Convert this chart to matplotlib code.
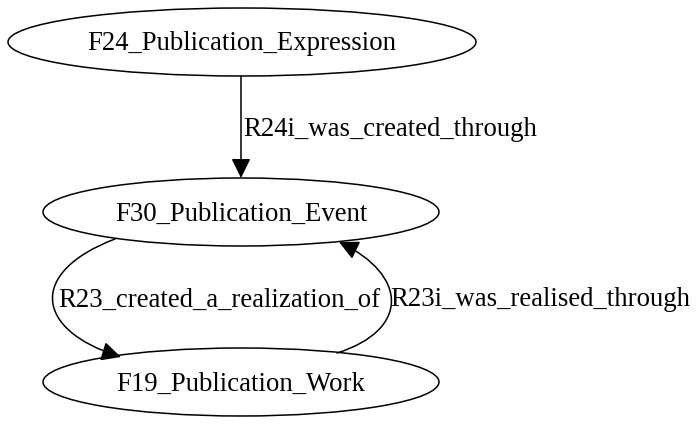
import matplotlib
matplotlib.use("Agg")
import matplotlib.pyplot as plt
from matplotlib.patches import Ellipse, FancyArrowPatch
from matplotlib.path import Path

# nodes of the graph
node_names = ["F24_Publication_Expression", "F30_Publication_Event", "F19_Publication_Work"]
node_x = [242, 241, 241]
node_y = [42, 212, 382]
node_rx = [234, 198, 198]
node_ry = [34, 34, 34]

# edge labels
edge_labels = ["R24i_was_created_through", "R23_created_a_realization_of", "R23i_was_realised_through"]

fig = plt.figure(figsize=(7.0, 4.26), dpi=100)
ax = fig.add_axes([0, 0, 1, 1])
ax.set_xlim(0, 700)
ax.set_ylim(426, 0)
ax.axis("off")

fnt = dict(family=["Liberation Serif", "DejaVu Serif"], fontsize=19.3, color="black")

for name, x, y, rx, ry in zip(node_names, node_x, node_y, node_rx, node_ry):
    ax.add_patch(Ellipse((x, y), 2 * rx, 2 * ry, fill=False, ec="black", lw=1.1))
    ax.text(x, y + 2, name, ha="center", va="center", **fnt)

style = "-|>,head_length=0.85,head_width=0.42"

# straight edge F24 -> F30
a1 = FancyArrowPatch(path=Path([(241, 76), (241, 178)]), arrowstyle=style,
                     mutation_scale=14, color="black", lw=1.1, shrinkA=0, shrinkB=0)
ax.add_patch(a1)
ax.text(243, 129, edge_labels[0], ha="left", va="center", **fnt)

# F30 -> F19 curved on the left
p2 = Path([(115, 239), (28, 272), (34, 330), (121, 357)],
          [Path.MOVETO, Path.CURVE4, Path.CURVE4, Path.CURVE4])
ax.add_patch(FancyArrowPatch(path=p2, arrowstyle=style, mutation_scale=14,
                             color="black", lw=1.1, shrinkA=0, shrinkB=0))
ax.text(58, 300, edge_labels[1], ha="left", va="center", **fnt)

# F19 -> F30 curved on the right
p3 = Path([(337, 353), (410, 330), (408, 275), (339, 242)],
          [Path.MOVETO, Path.CURVE4, Path.CURVE4, Path.CURVE4])
ax.add_patch(FancyArrowPatch(path=p3, arrowstyle=style, mutation_scale=14,
                             color="black", lw=1.1, shrinkA=0, shrinkB=0))
ax.text(390, 300, edge_labels[2], ha="left", va="center", **fnt)

fig.savefig("out.png", dpi=100)
